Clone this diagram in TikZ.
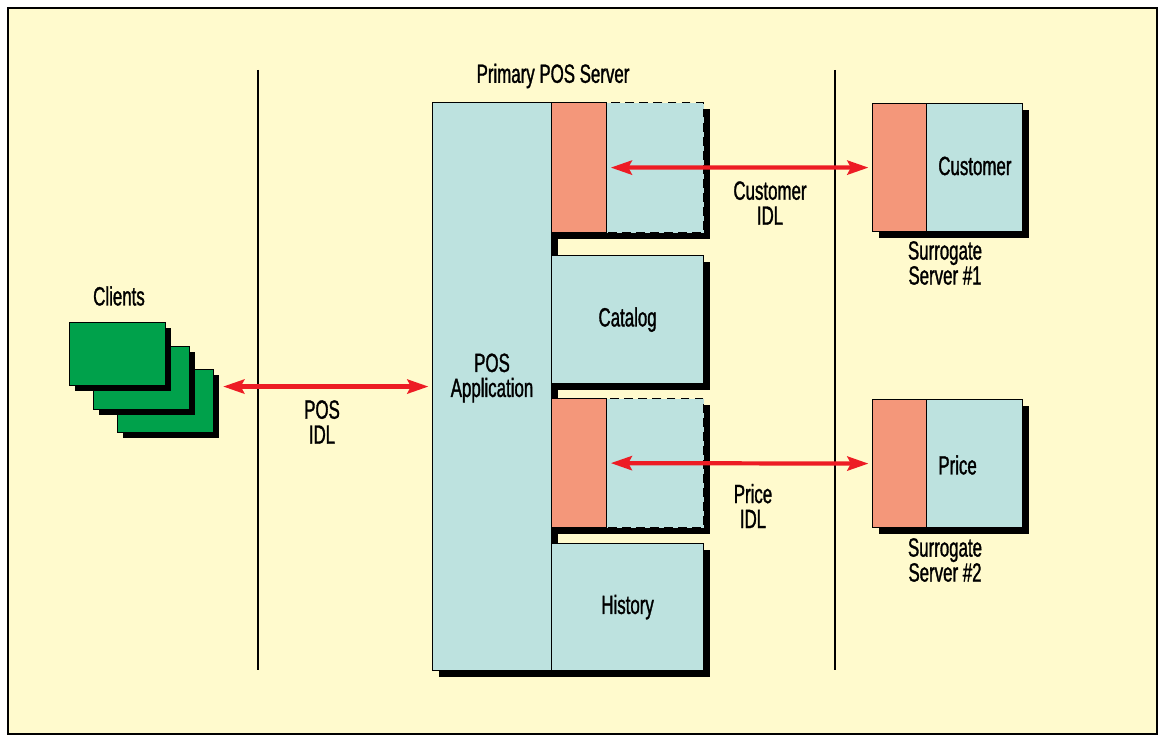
\documentclass[tikz,border=0pt]{standalone}
\usepackage{fontspec}
\setmainfont{Liberation Sans}[FakeStretch=0.64, FakeBold=1.2]
\usetikzlibrary{arrows.meta, positioning, shadows}
\definecolor{bgyellow}{HTML}{FFFACD}
\definecolor{srvblue}{HTML}{BDE2DF}
\definecolor{stubred}{HTML}{F4977A}
\definecolor{clientgreen}{HTML}{00A14B}
\definecolor{idlred}{HTML}{ED1C24}

\begin{document}
\begin{tikzpicture}[x=0.02cm, y=-0.02cm, font=\fontsize{15}{14.2}\selectfont,
    box/.style={draw, line width=0.7pt, fill=srvblue, anchor=north west, inner sep=0pt,
      drop shadow={shadow xshift=0.12cm, shadow yshift=-0.12cm, fill=black, opacity=1}},
    stub/.style={draw, line width=0.7pt, fill=stubred, anchor=north west, inner sep=0pt},
    client/.style={draw, line width=0.8pt, fill=clientgreen, anchor=north west, inner sep=0pt,
      minimum width=1.92cm, minimum height=1.26cm,
      drop shadow={shadow xshift=0.11cm, shadow yshift=-0.11cm, fill=black, opacity=1}},
    idl/.style={{Stealth[length=12pt, width=8pt, inset=2pt]}-{Stealth[length=12pt, width=8pt, inset=2pt]},
      line width=2.4pt, idlred},
    lbl/.style={align=center, inner sep=0pt}]
    \useasboundingbox (0,0) rectangle (1162,736);
    \draw[fill=bgyellow, line width=0.6pt] (8,8) rectangle (1157,734);
    \draw[line width=0.6pt] (258,70) -- (258,670);
    \draw[line width=0.6pt] (835,70) -- (835,670);

    \node[lbl] (server) at (553,76) {Primary POS Server};
    \node[box, minimum width=2.38cm, minimum height=11.36cm] (posapp) at (432,102) {};
    \node[lbl] (posapptext) at (492,378) {POS\\Application};
    \node[box, dash pattern=on 5pt off 3pt, minimum width=3.04cm, minimum height=2.6cm] (custbox) at (551,102) {};
    \node[stub, minimum width=1.1cm, minimum height=2.6cm] (custstub) at (551,102) {};
    \node[box, minimum width=3.04cm, minimum height=2.56cm] (catalog) at (551,255) {Catalog};
    \node[box, dash pattern=on 5pt off 3pt, minimum width=3.04cm, minimum height=2.58cm] (pricebox) at (551,398) {};
    \node[stub, minimum width=1.1cm, minimum height=2.58cm] (pricestub) at (551,398) {};
    \node[box, minimum width=3.04cm, minimum height=2.54cm] (history) at (551,543) {History};

    \node[box, minimum width=3cm, minimum height=2.56cm] (custsrv) at (872,103) {};
    \node[stub, minimum width=1.08cm, minimum height=2.56cm] (custsrvstub) at (872,103) {};
    \node[lbl, anchor=west] (custname) at (938,166) {Customer};
    \node[lbl] (surr1) at (945,263) {Surrogate\\Server \#1};
    \node[box, minimum width=3cm, minimum height=2.56cm] (pricesrv) at (872,399) {};
    \node[stub, minimum width=1.08cm, minimum height=2.56cm] (pricesrvstub) at (872,399) {};
    \node[lbl, anchor=west] (pricename) at (938,465) {Price};
    \node[lbl] (surr2) at (945,560) {Surrogate\\Server \#2};

    \node[client] (client3) at (117,369) {};
    \node[client] (client2) at (93,346) {};
    \node[client] (client1) at (69,322) {};
    \node[lbl] (clients) at (119,296) {Clients};

    \draw[idl, shorten <=2pt, shorten >=2pt] (custstub.east) -- (custsrvstub.west);
    \node[lbl] (custidl) at (770,203) {Customer\\IDL};
    \draw[idl, shorten <=2pt, shorten >=2pt] (pricestub.east) -- (pricesrvstub.west);
    \node[lbl] (priceidl) at (753,506) {Price\\IDL};
    \draw[idl, shorten <=2pt] (posapp.west) -- ([xshift=5pt]client3.east |- posapp.west);
    \node[lbl] (posidl) at (322,422) {POS\\IDL};
\end{tikzpicture}
\end{document}
